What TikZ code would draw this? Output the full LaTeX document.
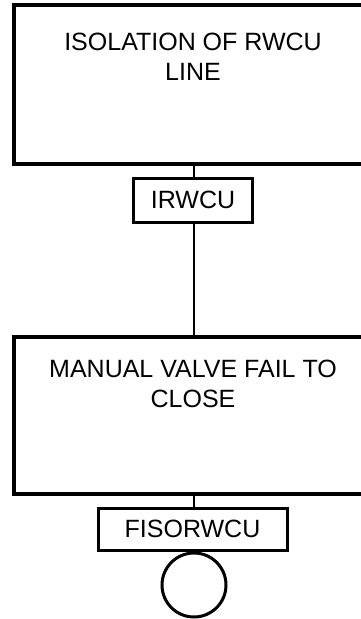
\documentclass[tikz,border=0pt]{standalone}
\usepackage{fontspec}
\setmainfont{Liberation Sans}
\begin{document}
\begin{tikzpicture}[x=1pt,y=-1pt,
  txt/.style={font=\fontsize{25}{29.5}\selectfont},
  bigbox/.style={draw, line width=3.5pt, minimum width=360pt, inner sep=0pt},
  smallbox/.style={draw, line width=3pt, inner sep=0pt, txt},
  label/.style={txt, align=center, anchor=north, inner sep=0pt},
  conn/.style={line width=2.5pt},
  basic/.style={draw, circle, line width=3pt, minimum size=64pt, inner sep=0pt}]
\useasboundingbox (0,0) rectangle (361,619);
\clip (0,0) rectangle (361,619);
% top event
\node[bigbox, minimum height=159pt] (top) at (194,84.5) {};
\node[label] (toptxt) at (193,33) {ISOLATION OF RWCU\\LINE};
\node[smallbox, minimum width=119pt, minimum height=44pt] (irw) at (193,200) {IRWCU};
% basic event
\node[bigbox, minimum height=157pt] (man) at (194,415.5) {};
\node[label] (mantxt) at (193,360) {MANUAL VALVE FAIL TO\\CLOSE};
\node[smallbox, minimum width=189pt, minimum height=42pt] (fis) at (192.5,529) {FISORWCU};
\node[basic, anchor=north] (circ) at (fis.south -| man.south) {};
% connectors
\draw[conn] (top.south) -- (top.south |- irw.north);
\draw[conn] (top.south |- irw.south) -- (man.north);
\draw[conn] (man.south) -- (man.south |- fis.north);
\end{tikzpicture}
\end{document}
